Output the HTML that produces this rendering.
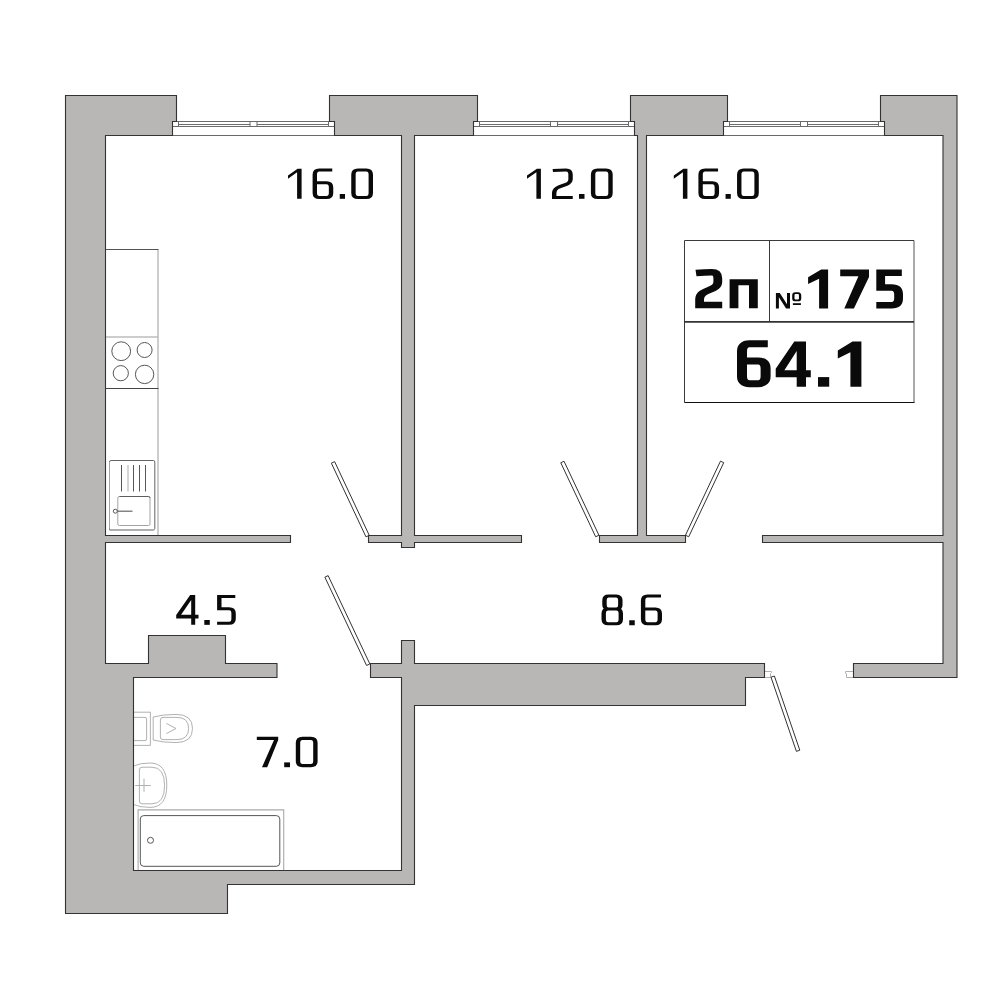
<!DOCTYPE html>
<html><head><meta charset="utf-8">
<style>
html,body{margin:0;padding:0;background:#fff;font-family:"Liberation Sans",sans-serif;width:1000px;height:1000px;overflow:hidden;}
svg{display:block;position:absolute;left:0;top:0;}
text{font-family:"Liberation Sans",sans-serif;}
</style></head>
<body>
<svg width="1000" height="1000" viewBox="0 0 1000 1000">
<rect x="172.5" y="121.5" width="162.0" height="14" fill="#fff" stroke="#6a6a6a" stroke-width="1"/>
<path d="M172.5 126.5 H334.5 M178.5 124.5 H250.0 M257.0 124.5 H328.5 M178.5 121.5 V126.5 M250.0 121.5 V126.5 M257.0 121.5 V126.5 M328.5 121.5 V126.5" fill="none" stroke="#6a6a6a" stroke-width="1"/>
<rect x="473.5" y="121.5" width="161.0" height="14" fill="#fff" stroke="#6a6a6a" stroke-width="1"/>
<path d="M473.5 126.5 H634.5 M479.5 124.5 H550.5 M557.5 124.5 H628.5 M479.5 121.5 V126.5 M550.5 121.5 V126.5 M557.5 121.5 V126.5 M628.5 121.5 V126.5" fill="none" stroke="#6a6a6a" stroke-width="1"/>
<rect x="723.5" y="121.5" width="161.0" height="14" fill="#fff" stroke="#6a6a6a" stroke-width="1"/>
<path d="M723.5 126.5 H884.5 M729.5 124.5 H800.5 M807.5 124.5 H878.5 M729.5 121.5 V126.5 M800.5 121.5 V126.5 M807.5 121.5 V126.5 M878.5 121.5 V126.5" fill="none" stroke="#6a6a6a" stroke-width="1"/>
<path d="M764.5 671.5 H771.5 V672.5 L770.5 673.5 V677.5 H764.5 M853.5 671.5 H845.5 V673 L846.5 674 V677.5 H853.5" fill="#fff" stroke="#b0b0b0" stroke-width="1"/>
<path d="M369.23 535.34 L334.63 461.64 L331.37 463.16 L365.97 536.86 Z" fill="#fff" stroke="#333" stroke-width="1"/>
<path d="M598.93 535.23 L564.03 461.23 L560.77 462.77 L595.67 536.77 Z" fill="#fff" stroke="#333" stroke-width="1"/>
<path d="M688.73 536.77 L723.73 462.67 L720.47 461.13 L685.47 535.23 Z" fill="#fff" stroke="#333" stroke-width="1"/>
<path d="M369.83 663.93 L328.13 575.63 L324.87 577.17 L366.57 665.47 Z" fill="#fff" stroke="#333" stroke-width="1"/>
<path d="M771.00 677.18 L796.40 751.38 L799.80 750.22 L774.40 676.02 Z" fill="#fff" stroke="#333" stroke-width="1"/>
<path d="M158 249.5 V535" fill="none" stroke="#bdbdbd" stroke-width="1.5"/>
<path d="M105.5 249.5 H158.5" fill="none" stroke="#555" stroke-width="1"/>
<path d="M105.5 337 H158.5" fill="none" stroke="#bdbdbd" stroke-width="1.5"/>
<path d="M105.5 388.5 H158.5" fill="none" stroke="#444" stroke-width="1"/>
<g fill="none" stroke="#444" stroke-width="0.9"><circle cx="121.2" cy="351.2" r="9.4"/><circle cx="144.6" cy="350" r="7.5"/><circle cx="120.8" cy="373.2" r="7.6"/><circle cx="144.6" cy="374.4" r="9.2"/></g>
<g fill="none" stroke-width="0.9"><path d="M109.5 530 V462 Q109.5 460.5 111 460.5 H153.3 Q154.8 460.5 154.8 462 V528.5 Q154.8 530 153.3 530 Z" stroke="#555"/><path d="M109.5 462 V528.5 Q109.5 530 111 530 H153.3 Q154.8 530 154.8 528.5" stroke="#aaa"/><rect x="117.8" y="496.5" width="32.2" height="29" rx="1.6" stroke="#999"/><path d="M119.4 496.5 H148.4 Q150 496.5 150 498" stroke="#555"/><path d="M121.5 465 V491.5 M133.5 465 V491.5 M139.5 465 V491.5 M145.5 465 V491.5" stroke="#444"/><path d="M128 465 V491.5" stroke="#bbb" stroke-width="1.2"/><path d="M117 511.2 H132.5" stroke="#666" stroke-width="1.2"/><circle cx="115.3" cy="511.2" r="2" stroke="#444" fill="#fff"/></g>
<g fill="none" stroke="#a8a8a8" stroke-width="0.9"><path d="M133.5 712.2 H150.4 V745.4 H133.5"/><path d="M133.5 717.4 H145 Q146.6 717.4 146.6 719 V739 Q146.6 740.6 145 740.6 H133.5"/><path d="M153.2 717 Q163 714.4 176 714.4 Q192.5 714.4 192.5 728.5 Q192.5 742.6 176 742.6 Q163 742.6 153.2 740 Z"/><path d="M160.4 720 Q160.4 717.4 163 717.4 H177 Q188.6 717.4 188.6 728.5 Q188.6 739.6 177 739.6 H163 Q160.4 739.6 160.4 737 Z"/><path d="M166.4 723.4 L176 728.5 L166.4 733.6"/><path d="M133.5 766 Q140 763 150 763 Q166.8 763 166.8 785.2 Q166.8 807.4 150 807.4 Q140 807.4 133.5 804.5"/><path d="M139.4 770 Q139.4 767.2 142 767.2 H152 Q164.6 767.2 164.6 785.5 Q164.6 803.8 152 803.8 H142 Q139.4 803.8 139.4 801 Z"/><path d="M135.2 785.5 H150.8 M144 778.6 V791.8"/></g>
<path d="M138.1 870 V809.9 H283.7 V870" fill="none" stroke="#aaa" stroke-width="1.1"/>
<rect x="140.3" y="815.6" width="139.5" height="50.7" rx="3.5" fill="none" stroke="#555" stroke-width="1"/>
<circle cx="150.5" cy="840.3" r="3" fill="none" stroke="#555" stroke-width="1"/>
<path d="M684.5 402.5 V240.5 H914 M769.5 240.5 V321" fill="none" stroke="#3a3a3a" stroke-width="1"/>
<path d="M914 240.5 V402.5" fill="none" stroke="#555" stroke-width="1"/>
<path d="M684.5 402.5 H914.5" fill="none" stroke="#111" stroke-width="1"/>
<path d="M684.5 321.8 H914" fill="none" stroke="#333" stroke-width="1.7"/>
<g fill="#b8b7b6" stroke="#333" stroke-width="1.1"><path d="M65.5 95.5 H176.5 V121.5 H172.5 V135.5 H105.5 V535.5 H290.5 V542.5 H105.5 V663.5 H148.5 V635.5 H225.5 V663.5 H277 V677.5 H133.5 V870.5 H401.5 V677.5 H370.5 V663.5 H401.5 V640.5 H414.5 V663.5 H764.5 V677.5 H745.5 V705.5 H414.5 V884.5 H227.5 V913.5 H65.5 Z"/><path d="M329.5 95.5 H477.5 V121.5 H473.5 V135.5 H414.5 V535.5 H521.5 V542.5 H414.5 V547.5 H401.5 V542.5 H368.5 V535.5 H401.5 V135.5 H334.5 V121.5 H329.5 Z"/><path d="M630.5 95.5 H727.5 V121.5 H723.5 V135.5 H646.5 V535.5 H685.5 V542.5 H599.5 V535.5 H637.5 V135.5 H634.5 V121.5 H630.5 Z"/><path d="M880.5 95.5 H957 V677.5 H853.5 V663.5 H943 V542.5 H762.5 V535.5 H943 V135.5 H884.5 V121.5 H880.5 Z"/></g>
<path d="M297.6 168.75 L301.6 168.75 L301.6 198.75 L297.1 198.75 L297.1 172.35 L288 178.75 L288 175.5 Z" fill="#0a0a0a" fill-rule="evenodd"/>
<path transform="translate(312.6 168.5) scale(1.4194 1)" d="M13.84 1.55 H4.72 Q1.55 1.55 1.55 6.05 V24.45 Q1.55 28.95 4.72 28.95 H9.83 Q13 28.95 13 24.45 V18.75 Q13 14.25 9.83 14.25 H1.55" fill="none" stroke="#0a0a0a" stroke-width="3.1" stroke-linecap="butt" stroke-linejoin="miter"/>
<path d="M339.75 194 L345 194 L345 198.8 L339.75 198.8 Z" fill="#0a0a0a" fill-rule="evenodd"/>
<path transform="translate(351.25 168.5) scale(1.4194 1)" d="M1.55 6.05 V24.45 Q1.55 28.95 4.72 28.95 H10.6 Q13.77 28.95 13.77 24.45 V6.05 Q13.77 1.55 10.6 1.55 H4.72 Q1.55 1.55 1.55 6.05 Z" fill="none" stroke="#0a0a0a" stroke-width="3.1" stroke-linecap="butt" stroke-linejoin="miter"/>
<path d="M683.4 168.75 L687.4 168.75 L687.4 198.75 L682.9 198.75 L682.9 172.35 L673.8 178.75 L673.8 175.5 Z" fill="#0a0a0a" fill-rule="evenodd"/>
<path transform="translate(698.4 168.5) scale(1.4194 1)" d="M13.84 1.55 H4.72 Q1.55 1.55 1.55 6.05 V24.45 Q1.55 28.95 4.72 28.95 H9.83 Q13 28.95 13 24.45 V18.75 Q13 14.25 9.83 14.25 H1.55" fill="none" stroke="#0a0a0a" stroke-width="3.1" stroke-linecap="butt" stroke-linejoin="miter"/>
<path d="M725.55 194 L730.8 194 L730.8 198.8 L725.55 198.8 Z" fill="#0a0a0a" fill-rule="evenodd"/>
<path transform="translate(737.05 168.5) scale(1.4194 1)" d="M1.55 6.05 V24.45 Q1.55 28.95 4.72 28.95 H10.6 Q13.77 28.95 13.77 24.45 V6.05 Q13.77 1.55 10.6 1.55 H4.72 Q1.55 1.55 1.55 6.05 Z" fill="none" stroke="#0a0a0a" stroke-width="3.1" stroke-linecap="butt" stroke-linejoin="miter"/>
<path d="M536.9 168.75 L540.9 168.75 L540.9 198.75 L536.4 198.75 L536.4 172.35 L527 178.75 L527 175.5 Z" fill="#0a0a0a" fill-rule="evenodd"/>
<path transform="translate(552 168.5) scale(1.4194 1)" d="M0.56 1.95 Q5.88 1.55 9.9 1.55 Q13.07 1.55 13.07 6.05 V11 C13.07 18.5 1.55 15.5 1.55 24.5 V28.95 M0 28.95 H14.62" fill="none" stroke="#0a0a0a" stroke-width="3.1" stroke-linecap="butt" stroke-linejoin="miter"/>
<path d="M579 194 L584.5 194 L584.5 198.8 L579 198.8 Z" fill="#0a0a0a" fill-rule="evenodd"/>
<path transform="translate(590.9 168.5) scale(1.4194 1)" d="M1.55 6.05 V24.45 Q1.55 28.95 4.72 28.95 H10.64 Q13.81 28.95 13.81 24.45 V6.05 Q13.81 1.55 10.64 1.55 H4.72 Q1.55 1.55 1.55 6.05 Z" fill="none" stroke="#0a0a0a" stroke-width="3.1" stroke-linecap="butt" stroke-linejoin="miter"/>
<path d="M190.2 595 L195.2 595 L195.2 614.8 L198.5 614.8 L198.5 618.5 L195.2 618.5 L195.2 624.85 L191.2 624.85 L191.2 618.5 L176.2 618.5 L176.2 615 Z M191.2 600 L191.2 614.8 L181.1 614.8 Z" fill="#0a0a0a" fill-rule="evenodd"/>
<path d="M204.3 620 L209.8 620 L209.8 624.85 L204.3 624.85 Z" fill="#0a0a0a" fill-rule="evenodd"/>
<path transform="translate(217.1 595) scale(1.4194 1)" d="M12.82 1.55 H1.55 M1.55 0 V15.25 M1.55 13.7 H8.45 Q11.62 13.7 11.62 18.2 V23.8 Q11.62 28.3 8.45 28.3 H0" fill="none" stroke="#0a0a0a" stroke-width="3.1" stroke-linecap="butt" stroke-linejoin="miter"/>
<path d="M256.8 736.8 L278.2 736.8 L278.2 740 L267.2 767.2 L262 767.2 L274 740 L256.8 740 Z" fill="#0a0a0a" fill-rule="evenodd"/>
<path d="M284.2 762.4 L290 762.4 L290 767.2 L284.2 767.2 Z" fill="#0a0a0a" fill-rule="evenodd"/>
<path transform="translate(295.8 736.8) scale(1.4194 1)" d="M1.55 6.05 V24.35 Q1.55 28.85 4.72 28.85 H10.64 Q13.81 28.85 13.81 24.35 V6.05 Q13.81 1.55 10.64 1.55 H4.72 Q1.55 1.55 1.55 6.05 Z" fill="none" stroke="#0a0a0a" stroke-width="3.1" stroke-linecap="butt" stroke-linejoin="miter"/>
<path transform="translate(601.5 594.5) scale(1.4194 1)" d="M2.11 5.6 V10.45 Q2.11 14.5 4.97 14.5 H10.41 Q13.26 14.5 13.26 10.45 V5.6 Q13.26 1.55 10.41 1.55 H4.97 Q2.11 1.55 2.11 5.6 Z M1.55 19 V24.7 Q1.55 29.2 4.72 29.2 H10.43 Q13.6 29.2 13.6 24.7 V19 Q13.6 14.5 10.43 14.5 H4.72 Q1.55 14.5 1.55 19 Z" fill="none" stroke="#0a0a0a" stroke-width="3.1" stroke-linecap="butt" stroke-linejoin="miter"/>
<path d="M629.25 620.25 L634.75 620.25 L634.75 625.25 L629.25 625.25 Z" fill="#0a0a0a" fill-rule="evenodd"/>
<path transform="translate(640.9 594.5) scale(1.4194 1)" d="M14.16 1.55 H4.72 Q1.55 1.55 1.55 6.05 V24.7 Q1.55 29.2 4.72 29.2 H10.15 Q13.32 29.2 13.32 24.7 V19 Q13.32 14.5 10.15 14.5 H1.55" fill="none" stroke="#0a0a0a" stroke-width="3.1" stroke-linecap="butt" stroke-linejoin="miter"/>
<path transform="translate(695.2 269) scale(1.3538 1)" d="M0.59 4.05 Q7.51 3.25 12.26 3.25 Q16.69 3.25 16.69 9.25 V13 C16.69 22.5 3.25 19.5 3.25 30.5 V35.95 M0 35.95 H19.94" fill="none" stroke="#0a0a0a" stroke-width="6.5" stroke-linecap="butt" stroke-linejoin="miter"/>
<path d="M729.6 279.2 L757.8 279.2 L757.8 308.2 L749 308.2 L749 285.2 L738.4 285.2 L738.4 308.2 L729.6 308.2 Z" fill="#0a0a0a" fill-rule="evenodd"/>
<path d="M775.9 293 L779.8 293 L787 304.2 L787 293 L790 293 L790 308.45 L786.1 308.45 L778.9 297.2 L778.9 308.45 L775.9 308.45 Z" fill="#0a0a0a" fill-rule="evenodd"/>
<path transform="translate(792.2 292.3) scale(1.2778 1)" d="M0.9 2.9 V6.1 Q0.9 8.1 2.47 8.1 H4.62 Q6.18 8.1 6.18 6.1 V2.9 Q6.18 0.9 4.62 0.9 H2.47 Q0.9 0.9 0.9 2.9 Z" fill="none" stroke="#0a0a0a" stroke-width="1.8" stroke-linecap="butt" stroke-linejoin="miter"/>
<path d="M792.9 303.2 L800.9 303.2 L800.9 305 L792.9 305 Z" fill="#0a0a0a" fill-rule="evenodd"/>
<path d="M821.2 269.4 L828.1 269.4 L828.1 308.4 L819.1 308.4 L819.1 278.7 L808.1 284.1 L808.1 277.2 Z" fill="#0a0a0a" fill-rule="evenodd"/>
<path d="M840.2 269.4 L869 269.4 L869 276.9 L853.9 308.4 L844.3 308.4 L858.4 276.3 L840.2 276.3 Z" fill="#0a0a0a" fill-rule="evenodd"/>
<path transform="translate(876.3 269.5) scale(1.3538 1)" d="M18.84 3.25 H3.25 M3.25 0 V21.15 M3.25 17.9 H11.3 Q16.47 17.9 16.47 24.9 V28.85 Q16.47 35.85 11.3 35.85 H0" fill="none" stroke="#0a0a0a" stroke-width="6.5" stroke-linecap="butt" stroke-linejoin="miter"/>
<path transform="translate(737 340.3) scale(1.4286 1)" d="M21.56 3.5 H8.75 Q3.5 3.5 3.5 11 V35.9 Q3.5 43.4 8.75 43.4 H14.77 Q20.02 43.4 20.02 35.9 V28.15 Q20.02 20.65 14.77 20.65 H3.5" fill="none" stroke="#0a0a0a" stroke-width="7" stroke-linecap="butt" stroke-linejoin="miter"/>
<path d="M794.3 341.4 L806 341.4 L806 370.2 L810.8 370.2 L810.8 377.3 L806 377.3 L806 386.7 L796.7 386.7 L796.7 377.3 L775.7 377.3 L775.7 368.7 Z M796.7 351 L796.7 370.2 L784.4 370.2 Z" fill="#0a0a0a" fill-rule="evenodd"/>
<path d="M818 377.1 L829.2 377.1 L829.2 386.7 L818 386.7 Z" fill="#0a0a0a" fill-rule="evenodd"/>
<path d="M852.5 341.4 L861.4 341.4 L861.4 386.7 L850.4 386.7 L850.4 352.2 L837.8 358.47 L837.8 350.46 Z" fill="#0a0a0a" fill-rule="evenodd"/>
</svg>
</body></html>
